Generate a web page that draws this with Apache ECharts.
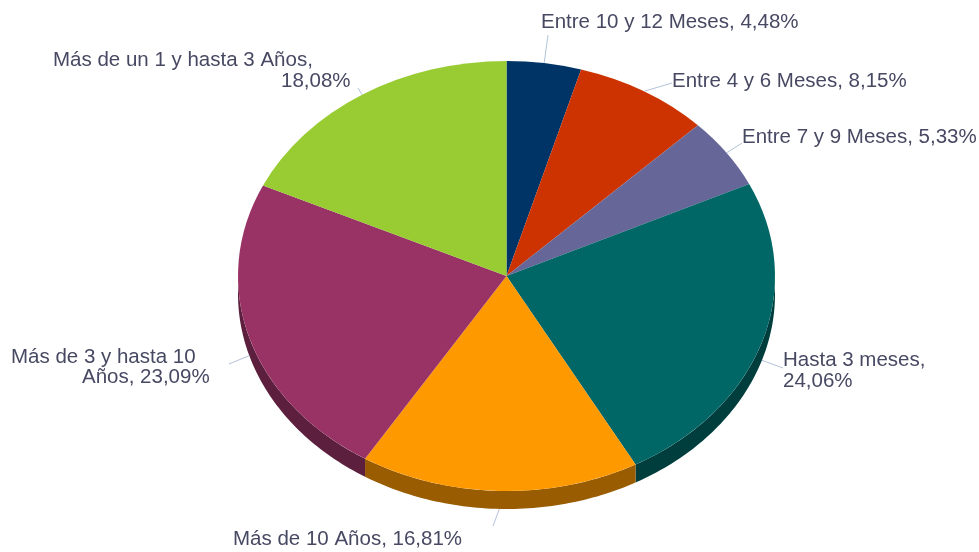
<!DOCTYPE html>
<html>
<head>
<meta charset="utf-8">
<style>
  html, body { margin: 0; padding: 0; background: #fff; }
  #chart { width: 979px; height: 552px; }
</style>
<script src="https://cdn.jsdelivr.net/npm/echarts@6/dist/echarts.min.js"></script>
</head>
<body>
<div id="chart"></div>
<script>
const categories = ['Entre 10 y 12 Meses', 'Entre 4 y 6 Meses', 'Entre 7 y 9 Meses', 'Hasta 3 meses', 'Más de 10 Años', 'Más de 3 y hasta 10 Años', 'Más de un 1 y hasta 3 Años']
const shares = [4.48, 8.15, 5.33, 24.06, 16.81, 23.09, 18.08]
const colors = ['#003366', '#cc3300', '#666699', '#006666', '#ff9900', '#993366', '#99cc33']
const sideColors = ['#001f3d', '#7a1f00', '#3d3d5c', '#003d3d', '#995c00', '#5c1f3d', '#5c7a1f']

// pie is squashed to fake the 3d tilt, so it has to be a custom series
const CX = 506.5, CY = 276, RX = 268.5, RY = 215, DEPTH = 18
const FONT = '20.5px "Liberation Sans", Arial, sans-serif'
const TEXT_COLOR = '#474963'
const LINE_COLOR = '#b3c3da'

// where each label sits: connector end, then line starts (x, middle y)
const labelLayout = [
  { end: [548, 35], lines: [[541, 22]] },
  { end: [672, 83], lines: [[672, 81]] },
  { end: [742, 143], lines: [[742, 137]] },
  { end: [783, 368], lines: [[783, 360], [783, 381]], wrap: 1 },
  { end: [493, 526], lines: [[233, 539]] },
  { end: [229, 364], lines: [[11, 357], [82, 377]], wrap: 2 },
  { end: [358, 88], lines: [[53, 60], [281, 81]], wrap: 1 },
]

const total = shares.reduce((a, b) => a + b, 0)

function rimPoint(deg, dy) {
  const a = (deg * Math.PI) / 180
  return [CX + RX * Math.sin(a), CY - RY * Math.cos(a) + dy]
}

function labelLines(i) {
  const text = categories[i] + ', ' + shares[i].toFixed(2).replace('.', ',')  + '%'
  const wrap = labelLayout[i].wrap
  if (!wrap) return [text]
  const words = text.split(' ')
  return [words.slice(0, -wrap).join(' '), words.slice(-wrap).join(' ')]
}

function renderItem(params, api) {
  const i = params.dataIndex
  const before = shares.slice(0, i).reduce((a, b) => a + b, 0)
  const start = (before / total) * 360
  const end = start + (api.value(0) / total) * 360
  const mid = (start + end) / 2
  const children = []

  // side wall, only the front half is visible
  const from = Math.max(start, 90), to = Math.min(end, 270)
  if (to > from) {
    const top = [], bottom = []
    for (let d = from; d < to; d += 1) {
      top.push(rimPoint(d, 0))
      bottom.unshift(rimPoint(d, DEPTH))
    }
    top.push(rimPoint(to, 0))
    bottom.unshift(rimPoint(to, DEPTH))
    children.push({
      type: 'polygon',
      z2: 1,
      shape: { points: top.concat(bottom) },
      style: { fill: sideColors[i] },
    })
  }

  children.push({
    type: 'sector',
    z2: 2,
    x: CX,
    y: CY,
    scaleY: RY / RX,
    shape: {
      cx: 0,
      cy: 0,
      r0: 0,
      r: RX,
      startAngle: ((start - 90) * Math.PI) / 180,
      endAngle: ((end - 90) * Math.PI) / 180,
      clockwise: true,
    },
    style: { fill: colors[i] },
  })

  const layout = labelLayout[i]
  const rim = rimPoint(mid, mid > 90 && mid < 270 ? DEPTH : 0)
  children.push({
    type: 'polyline',
    z2: 3,
    shape: { points: [rim, layout.end] },
    style: { stroke: LINE_COLOR, lineWidth: 1, fill: null },
  })
  labelLines(i).forEach((line, n) => {
    children.push({
      type: 'text',
      z2: 4,
      x: layout.lines[n][0],
      y: layout.lines[n][1],
      style: { text: line, font: FONT, fill: TEXT_COLOR, align: 'left', verticalAlign: 'middle' },
    })
  })

  return { type: 'group', children }
}

const chart = echarts.init(document.getElementById('chart'))
chart.setOption({
  backgroundColor: '#fff',
  animation: false,
  tooltip: { show: false },
  series: [
    {
      type: 'custom',
      coordinateSystem: 'none',
      renderItem,
      data: shares.map((v, i) => ({ name: categories[i], value: [v] })),
    },
  ],
})
</script>
</body>
</html>
